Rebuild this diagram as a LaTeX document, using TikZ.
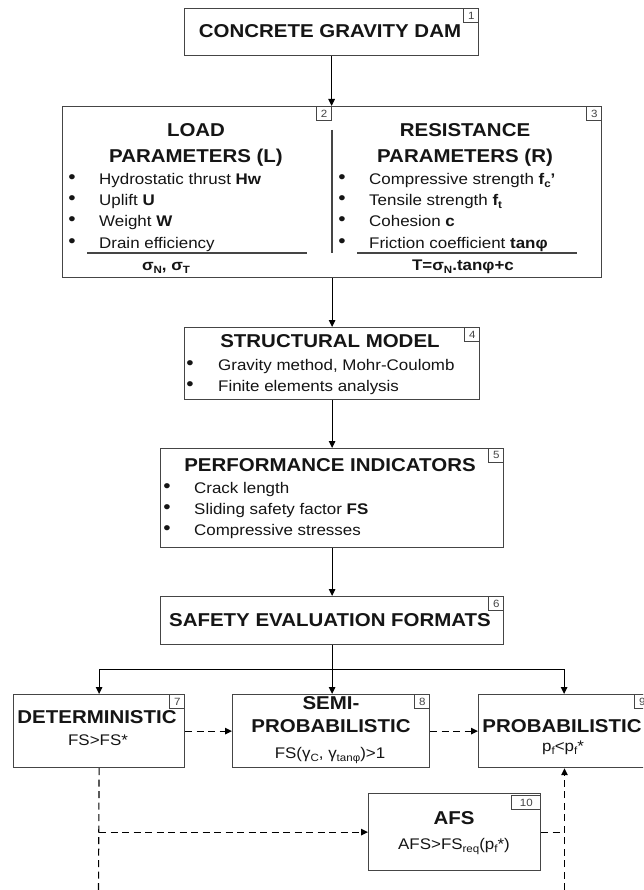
\documentclass[tikz,border=0pt]{standalone}
\usepackage{fontspec}
\setmainfont{Liberation Sans}[FakeStretch=1.1]
\usetikzlibrary{arrows.meta}
\definecolor{boxc}{HTML}{454545}
\definecolor{txtc}{HTML}{151515}
\newcommand\fbody{\fontsize{15.4}{18}\selectfont}
\newcommand\ftitle{\fontsize{18.6}{22}\selectfont\bfseries}
\newcommand\sbs[1]{\raisebox{-0.35ex}{\fontsize{10.5}{10}\selectfont #1}}
\begin{document}
\begin{tikzpicture}[x=1pt,y=-1pt,
  box/.style={draw=boxc,line width=1.2pt,inner sep=0pt,anchor=north west},
  tag/.style={draw=boxc,line width=0.8pt,inner sep=0pt,minimum width=15pt,minimum height=14pt,anchor=north east,font=\fontsize{10.5}{10}\selectfont,text=boxc},
  ttl/.style={inner sep=0pt,text height=13.3pt,text depth=0pt,font=\ftitle,text=txtc,anchor=center},
  bod/.style={inner sep=0pt,text height=11pt,text depth=0pt,font=\fbody,text=txtc,anchor=west},
  bodc/.style={bod,anchor=center},
  bul/.style={inner sep=0pt,font=\fontsize{19}{19}\selectfont,text=txtc,anchor=center},
  arr/.style={draw=black,line width=1pt,-{Triangle[length=7pt,width=6.5pt]}},
  ln/.style={draw=black,line width=1pt},
  dsh/.style={draw=black,line width=1.1pt,dash pattern=on 7pt off 4.5pt},
  darr/.style={dsh,-{Triangle[length=7pt,width=6.5pt]}},
  uline/.style={draw=boxc,line width=1.1pt}]
\clip (0,0) rectangle (643,890);
\fill[white] (0,0) rectangle (643,890);

% box 1
\node[box,minimum width=294pt,minimum height=47pt] (b1) at (184,8) {};
\node[tag] (t1) at (b1.north east) {1};
\node[ttl] (b1t) at (330,31) {CONCRETE GRAVITY DAM};

% box 2/3
\node[box,minimum width=539pt,minimum height=171pt] (b23) at (62,106) {};
\coordinate (dvt) at (332,106);
\node[tag] (t2) at (dvt) {2};
\node[tag] (t3) at (b23.north east) {3};
\coordinate (dv1) at (332,130);
\coordinate (dv2) at (332,253);
\draw[uline] (dv1) -- (dv2);
\node[ttl] (l1) at (196,130) {LOAD};
\node[ttl] (l2) at (196,156) {PARAMETERS (L)};
\node[bul] (lb1) at (72,179) {•};
\node[bul] (lb2) at (72,200) {•};
\node[bul] (lb3) at (72,221) {•};
\node[bul] (lb4) at (72,243) {•};
\node[bod] (lt1) at (99,179) {Hydrostatic thrust \textbf{Hw}};
\node[bod] (lt2) at (99,200) {Uplift \textbf{U}};
\node[bod] (lt3) at (99,221) {Weight \textbf{W}};
\node[bod] (lt4) at (99,243) {Drain efficiency};
\coordinate (lu1) at (87,253);
\coordinate (lu2) at (307,253);
\draw[uline] (lu1) -- (lu2);
\node[bodc,font=\fbody\bfseries] (lf) at (166,265) {σ\sbs{N}, σ\sbs{T}};
\node[ttl] (r1) at (465,130) {RESISTANCE};
\node[ttl] (r2) at (465,156) {PARAMETERS (R)};
\node[bul] (rb1) at (342,179) {•};
\node[bul] (rb2) at (342,200) {•};
\node[bul] (rb3) at (342,221) {•};
\node[bul] (rb4) at (342,243) {•};
\node[bod] (rt1) at (369,179) {Compressive strength \textbf{f\sbs{c}’}};
\node[bod] (rt2) at (369,200) {Tensile strength \textbf{f\sbs{t}}};
\node[bod] (rt3) at (369,221) {Cohesion \textbf{c}};
\node[bod] (rt4) at (369,243) {Friction coefficient \textbf{tanφ}};
\coordinate (ru1) at (357,253);
\coordinate (ru2) at (577,253);
\draw[uline] (ru1) -- (ru2);
\node[bodc,font=\fbody\bfseries] (rf) at (463,265) {T=σ\sbs{N}.tanφ+c};

% box 4
\node[box,minimum width=295pt,minimum height=72pt] (b4) at (184,327) {};
\node[tag] (t4) at (b4.north east) {4};
\node[ttl] (b4t) at (330,341) {STRUCTURAL MODEL};
\node[bul] (sb1) at (190,365) {•};
\node[bul] (sb2) at (190,386) {•};
\node[bod] (st1) at (218,365) {Gravity method, Mohr-Coulomb};
\node[bod] (st2) at (218,386) {Finite elements analysis};

% box 5
\node[box,minimum width=343pt,minimum height=99pt] (b5) at (160,448) {};
\node[tag] (t5) at (b5.north east) {5};
\node[ttl] (b5t) at (330,465) {PERFORMANCE INDICATORS};
\node[bul] (pb1) at (167,488) {•};
\node[bul] (pb2) at (167,509) {•};
\node[bul] (pb3) at (167,530) {•};
\node[bod] (pt1) at (194,488) {Crack length};
\node[bod] (pt2) at (194,509) {Sliding safety factor \textbf{FS}};
\node[bod] (pt3) at (194,530) {Compressive stresses};

% box 6
\node[box,minimum width=343pt,minimum height=48pt] (b6) at (160,596) {};
\node[tag] (t6) at (b6.north east) {6};
\node[ttl] (b6t) at (330,620) {SAFETY EVALUATION FORMATS};

% box 7
\node[box,minimum width=171pt,minimum height=73pt] (b7) at (13,694) {};
\node[tag] (t7) at (b7.north east) {7};
\node[ttl] (b7t) at (97,717) {DETERMINISTIC};
\node[bodc] (b7f) at (98,740) {FS>FS*};

% box 8
\node[box,minimum width=197pt,minimum height=73pt] (b8) at (232,694) {};
\node[tag] (t8) at (b8.north east) {8};
\node[ttl] (b8t1) at (331,703) {SEMI-};
\node[ttl] (b8t2) at (331,726) {PROBABILISTIC};
\node[bodc] (b8f) at (330,753) {FS(γ\sbs{C}, γ\sbs{tanφ})>1};

% box 9
\node[box,minimum width=171pt,minimum height=73pt] (b9) at (478,694) {};
\node[tag] (t9) at (b9.north east) {9};
\node[ttl] (b9t) at (562,726) {PROBABILISTIC};
\node[bodc] (b9f) at (563,746) {p\sbs{f}<p\sbs{f}*};

% box 10
\node[box,minimum width=172pt,minimum height=77pt] (b10) at (368,793) {};
\node[tag,minimum width=29pt] (t10) at ([yshift=-2pt]b10.north east) {10};
\node[ttl] (b10t) at (454,818) {AFS};
\node[bodc] (b10f) at (454,844) {AFS>FS\sbs{req}(p\sbs{f}*)};

% connectors
\draw[arr] (b1.south) -- (b1.south |- b23.north);
\draw[arr] (b23.south) -- (b4.north);
\draw[arr] (b4.south) -- (b5.north);
\draw[arr] (b5.south) -- (b6.north);
\coordinate (split) at (331.5,669);
\draw[arr] (b6.south) -- (b6.south |- b8.north);
\draw[ln] (split -| b7.north) -- (split -| b9.north);
\draw[arr] (split -| b7.north) -- (b7.north);
\draw[arr] (split -| b9.north) -- (b9.north);
\draw[darr] (b7.east) -- (b8.west);
\draw[darr] (b8.east) -- (b9.west);
\coordinate (d1) at (98.5,890);
\draw[dsh] (b7.south) -- (d1);
\draw[darr] (b10.west -| b7.south) -- (b10.west);
\coordinate (d2) at (564.5,890);
\draw[dsh] (b10.east) -- (b10.east -| d2);
\draw[darr] (d2) -- (d2 |- b9.south);
\end{tikzpicture}
\end{document}
